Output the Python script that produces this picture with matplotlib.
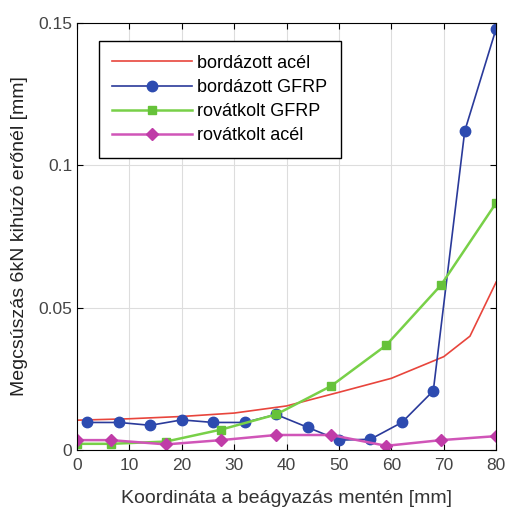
import matplotlib
matplotlib.use("Agg")
import matplotlib.pyplot as plt

plt.rcParams['font.family'] = ['Liberation Sans', 'DejaVu Sans']

# bordázott acél (smooth curve)
red_x = [0, 10, 20, 30, 40, 50, 60, 70, 75, 80]
red_y = [0.0105, 0.0110, 0.0118, 0.0130, 0.0155, 0.0203, 0.0252, 0.0328, 0.0400, 0.0590]

# bordázott GFRP
blue_x = [2, 8, 14, 20, 26, 32, 38, 44, 50, 56, 62, 68, 74, 80]
blue_y = [0.0097, 0.0097, 0.0087, 0.0106, 0.0097, 0.0097, 0.0125, 0.0080,
          0.0035, 0.0038, 0.0097, 0.0208, 0.112, 0.148]

# rovátkolt GFRP
green_x = [0, 6.5, 17, 27.5, 38, 48.5, 59, 69.5, 80]
green_y = [0.0022, 0.0022, 0.0030, 0.0072, 0.0125, 0.0225, 0.0368, 0.0580, 0.0868]

# rovátkolt acél
pink_x = [0, 6.5, 17, 27.5, 38, 48.5, 59, 69.5, 80]
pink_y = [0.0035, 0.0035, 0.0020, 0.0035, 0.0053, 0.0053, 0.0015, 0.0035, 0.0049]

fig = plt.figure(figsize=(5.05, 5.08), dpi=100)
ax = fig.add_axes([0.1525, 0.114, 0.83, 0.841])

ax.plot(red_x, red_y, '-', color='#e8453c', lw=1.2, label='bordázott acél')
ax.plot(blue_x, blue_y, '-o', color='#2a3a9a', mfc='#2d4bb0', mec='#2d4bb0',
        ms=7.5, lw=1.2, label='bordázott GFRP')
ax.plot(green_x, green_y, '-s', color='#78d048', mfc='#66c23a', mec='#66c23a',
        ms=5.5, lw=1.8, label='rovátkolt GFRP')
ax.plot(pink_x, pink_y, '-D', color='#d055b8', mfc='#c03ca8', mec='#c03ca8',
        ms=6, lw=1.8, label='rovátkolt acél')

ax.set_xlim(0, 80)
ax.set_ylim(0, 0.15)
ax.set_xticks(range(0, 81, 10))
ax.set_yticks([0, 0.05, 0.1, 0.15])
ax.set_yticklabels(['0', '0.05', '0.1', '0.15'])
ax.tick_params(direction='in', top=True, right=True, labelsize=12.5,
               labelcolor='#444444', length=4)
ax.tick_params(axis='x', pad=6)
ax.grid(color='#dddddd', lw=0.8)
ax.set_xlabel('Koordináta a beágyazás mentén [mm]', fontsize=14,
              color='#333333', labelpad=12)
ax.set_ylabel('Megcsúszás 6kN kihúzó erőnél [mm]', fontsize=14,
              color='#222222', labelpad=7)

leg = ax.legend(loc='upper left', bbox_to_anchor=(0.052, 0.957), fontsize=13,
                fancybox=False, edgecolor='black', framealpha=1,
                handlelength=4.4, borderpad=0.75, labelspacing=0.4,
                handletextpad=0.3, borderaxespad=0)
leg.get_frame().set_linewidth(1.0)

fig.savefig('out.png', dpi=100)
